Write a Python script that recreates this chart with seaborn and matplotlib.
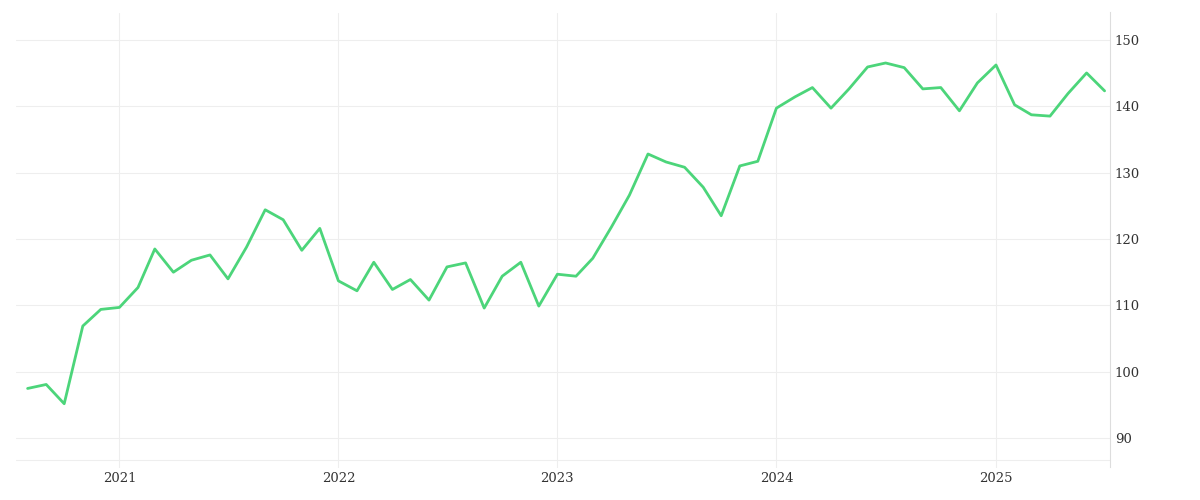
import pandas as pd
import numpy as np
import matplotlib.pyplot as plt
import seaborn as sns

# monthly values, Aug 2020 .. Jul 2025
months = pd.date_range("2020-08-01", "2025-07-01", freq="MS")
values = [97.5, 98.1, 95.2, 106.9, 109.4,
          109.7, 112.7, 118.5, 115.0, 116.8, 117.6, 114.0, 118.8, 124.4, 122.9, 118.3, 121.6,
          113.7, 112.2, 116.5, 112.4, 113.9, 110.8, 115.8, 116.4, 109.6, 114.4, 116.5, 109.9,
          114.7, 114.4, 117.1, 121.8, 126.6, 132.8, 131.6, 130.8, 127.8, 123.5, 131.0, 131.7,
          139.7, 141.4, 142.8, 139.7, 142.6, 145.9, 146.5, 145.8, 142.6, 142.8, 139.3, 143.5,
          146.2, 140.2, 138.7, 138.5, 141.9, 145.0, 142.3]
year_ticks = ["2021", "2022", "2023", "2024", "2025"]
y_ticks = [90, 100, 110, 120, 130, 140, 150]

df = pd.DataFrame({"date": months, "value": values})

sns.set_style("white")
plt.rcParams['font.family'] = ['DejaVu Serif']

fig, ax = plt.subplots(figsize=(12, 5), dpi=100)
sns.lineplot(data=df, x="date", y="value", color="#4cd57a", linewidth=2.0, ax=ax)

ax.set_xlim(pd.Timestamp("2020-07-12"), pd.Timestamp("2025-07-10"))
ax.set_ylim(85.6, 154.1)
ax.set_xticks([pd.Timestamp(f"{y}-01-01") for y in year_ticks])
ax.set_xticklabels(year_ticks)
ax.set_yticks(y_ticks)
ax.yaxis.tick_right()
ax.grid(True, color="#eeeeee", linewidth=0.8)
ax.tick_params(axis="both", length=0, labelsize=9.5, colors="#333333")
ax.set_xlabel("")
ax.set_ylabel("")
for s in ["top", "left", "bottom"]:
    ax.spines[s].set_visible(False)
ax.spines["right"].set_color("#dddddd")
ax.axhline(85.6 + 1.2, color="#eeeeee", linewidth=0.8)

plt.subplots_adjust(left=0.013, right=0.925, top=0.975, bottom=0.065)
plt.savefig("out.png", dpi=100)
